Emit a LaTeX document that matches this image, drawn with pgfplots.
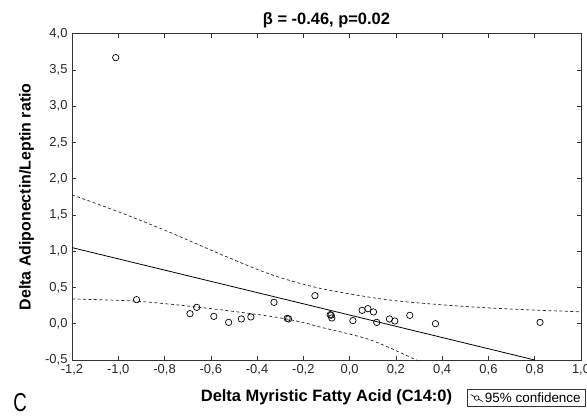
\documentclass[border=0pt]{standalone}
\usepackage{fontspec}
\setmainfont{Liberation Sans}
\usepackage{pgfplots}
\pgfplotsset{compat=1.18}
\begin{document}
\begin{tikzpicture}
\begin{axis}[
  name=ax,
  scale only axis,
  width=509bp, height=326.3bp,
  xmin=-1.2, xmax=1.0, ymin=-0.5, ymax=4.0,
  xtick={-1.2,-1.0,-0.8,-0.6,-0.4,-0.2,0,0.2,0.4,0.6,0.8,1.0},
  ytick={-0.5,0,0.5,1.0,1.5,2.0,2.5,3.0,3.5,4.0},
  /pgf/number format/assume math mode=true,
  /pgf/number format/.cd, use comma, fixed, fixed zerofill, precision=1, /pgfplots/.cd,
  tick label style={font=\fontsize{13}{14}\selectfont, text=black!85},
  tick align=inside,
  major tick length=4bp,
  tick style={black!80, line width=0.6bp},
  axis line style={black!80, line width=0.9bp},
  xticklabel style={yshift=-1bp},
  yticklabel style={xshift=-1bp},
  legend style={at={(1.0098,-0.1165)}, anchor=east, draw=black!80, fill=white,
    font=\fontsize{13.5}{14}\selectfont, inner xsep=3bp, inner ysep=1bp, line width=0.6bp},
  legend cell align=left,
  clip mode=individual,
]
% regression line
\addplot[black, line width=0.8bp, forget plot] coordinates {(-1.2,1.05) (-0.6,0.585) (0,0.12) (0.8,-0.5)};
% upper 95% band
\addplot[black!85, line width=0.7bp, dash pattern=on 3bp off 2.5bp, smooth, forget plot] coordinates {
(-1.2,1.778) (-0.984,1.526) (-0.769,1.25) (-0.553,0.952) (-0.337,0.676) (-0.13,0.49) (0.158,0.333) (0.446,0.25) (0.734,0.197) (1.0,0.165)};
% lower 95% band
\addplot[black!85, line width=0.7bp, dash pattern=on 3bp off 2.5bp, smooth, forget plot] coordinates {
(-1.2,0.342) (-0.913,0.309) (-0.626,0.218) (-0.337,0.10) (-0.193,0.011) (-0.13,-0.044) (0.086,-0.219) (0.288,-0.5) (0.35,-0.6)};
% data points
\addplot[only marks, mark=o, mark size=3.2bp, mark options={black, line width=0.7bp}, forget plot] coordinates {
(-1.011,3.67) (-0.921,0.332) (-0.690,0.139) (-0.661,0.226) (-0.587,0.102) (-0.523,0.019)
(-0.468,0.066) (-0.427,0.094) (-0.327,0.295) (-0.270,0.074) (-0.264,0.066) (-0.150,0.387)
(-0.084,0.125) (-0.080,0.118) (-0.077,0.080) (0.014,0.043) (0.054,0.185) (0.079,0.208)
(0.103,0.163) (0.117,0.019) (0.172,0.066) (0.195,0.038) (0.260,0.116) (0.371,0.001) (0.823,0.019)};
\addlegendimage{legend image code/.code={
  \draw[black, line width=0.6bp] (0bp,3.5bp) -- (12bp,-3.5bp);
  \draw[black, fill=white, line width=0.6bp] (6bp,0bp) circle (2.3bp);}}
\addlegendentry{95\% confidence}
% texts
\node[font=\bfseries\fontsize{16.5}{18}\selectfont] at (axis description cs:0.5,1.042) {β = -0.46, p=0.02};
\node[font=\bfseries\fontsize{16.5}{18}\selectfont] at (axis description cs:0.5,-0.1149) {Delta Myristic Fatty Acid (C14:0)};
\node[font=\bfseries\fontsize{16}{18}\selectfont, rotate=90] at (axis description cs:-0.0894,0.5) {Delta Adiponectin/Leptin ratio};
\end{axis}
\node[font=\fontsize{26}{28}\selectfont] at ([xshift=-52bp,yshift=-43bp]ax.south west) {\scalebox{0.72}[1]{C}};
\pgfresetboundingbox
\path[use as bounding box] ([xshift=-72bp,yshift=-56bp]ax.south west) rectangle ([xshift=6bp,yshift=33.7bp]ax.north east);
\end{tikzpicture}
\end{document}
